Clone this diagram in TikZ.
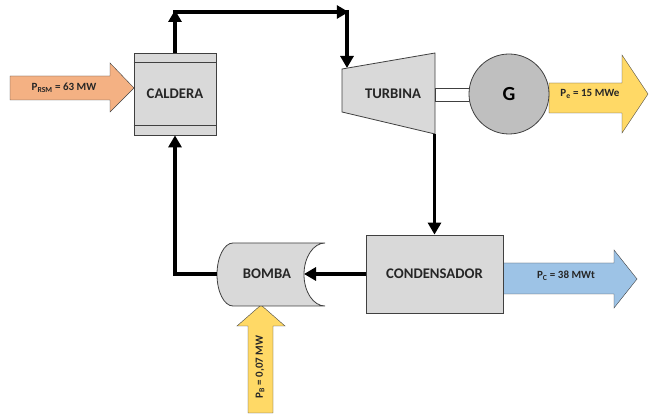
\documentclass[tikz,border=0pt]{standalone}
\usepackage{fontspec}
\setmainfont{Carlito}
\usetikzlibrary{arrows.meta}
\definecolor{boxfill}{HTML}{D9D9D9}
\definecolor{genfill}{HTML}{BFBFBF}
\definecolor{rsmfill}{HTML}{F4B183}
\definecolor{elecfill}{HTML}{FFD966}
\definecolor{condfill}{HTML}{9DC3E6}
\definecolor{edge}{HTML}{404040}

\begin{document}
\begin{tikzpicture}
[x=1pt,y=1pt,
	box/.style={draw=edge,fill=boxfill,thick,inner sep=0pt,text=black!85,
		font=\bfseries\fontsize{14.7}{16}\selectfont},
	flow/.style={line width=3.5pt,-{Triangle[length=12pt,width=13pt]}},
	power/.style={draw=edge,thin},
	plabel/.style={inner sep=0pt,text=black!85,font=\bfseries\fontsize{11}{13}\selectfont}]
\useasboundingbox (0,0) rectangle (649,415);

% power arrows (drawn first)
\filldraw[power,fill=rsmfill] (10,339) -- (110,339) -- (110,352) -- (134,327)
	-- (110,303) -- (110,315) -- (10,315) -- cycle;
\filldraw[power,fill=elecfill] (549,332) -- (622,332) -- (622,360) -- (648,321)
	-- (622,282) -- (622,302) -- (549,302) -- cycle;
\filldraw[power,fill=condfill] (503,152) -- (614,152) -- (614,165) -- (637,136)
	-- (614,107) -- (614,121) -- (503,121) -- cycle;
\filldraw[power,fill=elecfill] (248,2) -- (248,89) -- (237,89) -- (261,110)
	-- (285,89) -- (273,89) -- (273,2) -- cycle;

% components
\node[box,minimum width=82pt,minimum height=82pt] (caldera) at (175,321) {CALDERA};
\draw[edge,thick] ([yshift=-10pt]caldera.north west) -- ([yshift=-10pt]caldera.north east);
\draw[edge,thick] ([yshift=10pt]caldera.south west) -- ([yshift=10pt]caldera.south east);

\filldraw[box] (342,346) -- (435,362) -- (435,281) -- (342,303) -- cycle;
\node[box,draw=none,fill=none] (turbina) at (393,321) {TURBINA};
\filldraw[power,fill=white,thick] (435,314) rectangle (470,327);
\node[draw=edge,thick,fill=genfill,circle,minimum size=80pt,inner sep=0pt,
	font=\bfseries\fontsize{20}{22}\selectfont] (gen) at (509,321) {G};

\node[box,minimum width=137pt,minimum height=78pt] (condensador) at (434.5,141) {CONDENSADOR};

\filldraw[box] (325,172) -- (233,172) arc[start angle=90,end angle=270,x radius=16,y radius=31.5]
	-- (325,109) arc[start angle=270,end angle=90,x radius=21,y radius=31.5] -- cycle;
\node[box,draw=none,fill=none] (bomba) at (267,141) {BOMBA};

% labels
\node[plabel] (prsm) at (64,327) {P\textsubscript{RSM} = 63 MW};
\node[plabel] (pe) at (590,321) {P\textsubscript{e} = 15 MWe};
\node[plabel] (pc) at (566,139) {P\textsubscript{C} = 38 MWt};
\node[plabel,rotate=90] (pb) at (260,48) {P\textsubscript{B} = 0,07 MW};

% water/steam loop
\coordinate (c1) at (175,405);
\coordinate (c2) at (347,405);
\coordinate (tin) at (347,347);
\coordinate (tout) at (434.5,281);
\coordinate (bin) at (304,141);
\coordinate (bout) at (217,141);
\draw[flow] (caldera.north) -- (c1);
\draw[flow] ([xshift=-1.75pt]c1|-0,403) -- ([xshift=1.75pt]c2|-0,403);
\draw[flow] (c2) -- (tin);
\draw[flow] (tout) -- (condensador.north);
\draw[flow] (condensador.west) -- (bin);
\draw[flow] (bout) -| (caldera.south);
\end{tikzpicture}
\end{document}
